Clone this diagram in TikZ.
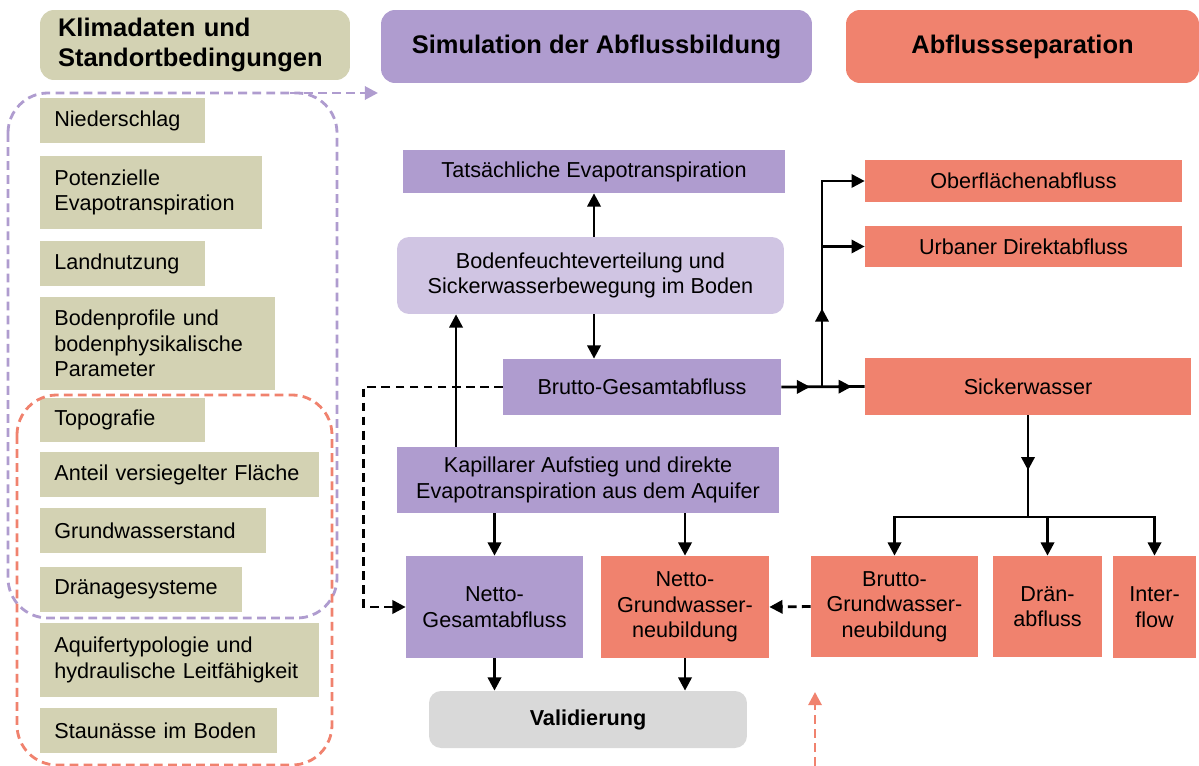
\documentclass[tikz,border=0pt]{standalone}
\usepackage{fontspec}
\setmainfont{Liberation Sans}
\usetikzlibrary{arrows.meta}
\usetikzlibrary{decorations.markings}

\definecolor{inputcol}{RGB}{211,210,179}
\definecolor{simcol}{RGB}{175,156,207}
\definecolor{simlight}{RGB}{208,197,227}
\definecolor{sepcol}{RGB}{240,130,110}
\definecolor{valcol}{RGB}{217,217,217}

\begin{document}
\begin{tikzpicture}[x = 0.02cm, y = -0.02cm,
    every node/.style = {font=\fontsize{12.3}{14.5}\selectfont},
    header/.style = {rounded corners=0.28cm, inner sep=0pt, align=center, font=\fontsize{14.5}{17.5}\selectfont\bfseries},
    inputbox/.style = {fill=inputcol, anchor=west, align=left, inner xsep=0.28cm, inner ysep=0pt},
    simbox/.style = {fill=simcol, inner sep=0pt, align=center},
    sepbox/.style = {fill=sepcol, inner sep=0pt, align=center},
    flowline/.style = {line width=1.6pt},
    flow/.style = {flowline, -{Triangle[length=7.5pt, width=7.5pt]}},
    dashflow/.style = {flow, dash pattern=on 5pt off 3pt},
    groupline/.style = {line width=1.6pt, dash pattern=on 5pt off 3pt},
    midarrow/.style = {postaction={decorate, decoration={markings, mark=at position #1 with {\arrow{Triangle[length=7.5pt, width=7.5pt]}}}}}
]

    \useasboundingbox (0,0) rectangle (1199,766);

    % Headers
    \node[header, fill=inputcol, align=left, text width=5.48cm, inner xsep=0.36cm, minimum height=1.4cm] (hklima) at (195,45) {Klimadaten und\\Standortbedingungen};
    \node[header, fill=simcol, minimum width=8.62cm, minimum height=1.46cm] (hsim) at (596.5,46.5) {Simulation der Abflussbildung};
    \node[header, fill=sepcol, minimum width=7.06cm, minimum height=1.46cm] (hsep) at (1022.5,46.5) {Abflussseparation};

    % Input data
    \foreach \yc/\tw/\mh/\txt [count=\i] in {
        120.5/2.74/0.9/Niederschlag,
        192.5/3.88/1.46/{Potenzielle\\Evapotranspiration},
        263.5/2.74/0.9/Landnutzung,
        343.5/4.14/1.86/{Bodenprofile und\\bodenphysikalische\\Parameter},
        420/2.74/0.88/Topografie,
        474.5/5.02/0.9/Anteil versiegelter Fläche,
        530.5/3.96/0.9/Grundwasserstand,
        589.5/3.48/0.9/Dränagesysteme,
        660/5.02/1.48/{Aquifertypologie und\\hydraulische Leitfähigkeit},
        730.5/4.18/0.9/Staunässe im Boden}
    \node[inputbox, text width=\tw cm, minimum height=\mh cm] (in\i) at (40,\yc) {\txt};

    % Dashed group frames
    \draw[groupline, simcol, rounded corners=0.8cm] (8,93) rectangle (337,618);
    \draw[groupline, sepcol, rounded corners=0.8cm] (17,395) rectangle (332,765);
    \coordinate (simout) at (290,93);
    \coordinate (simin) at (378,93);
    \draw[groupline, simcol, -{Triangle[length=7.5pt, width=7.5pt]}] (simout) -- (simin);
    \coordinate (sepout) at (815,766);
    \coordinate (sepin) at (815,692);
    \draw[groupline, sepcol, -{Triangle[length=7.5pt, width=7.5pt]}] (sepout) -- (sepin);

    % Simulation
    \node[simbox, minimum width=7.64cm, minimum height=0.86cm] (tats) at (594,171.5) {Tatsächliche Evapotranspiration};
    \node[simbox, fill=simlight, rounded corners=0.24cm, minimum width=7.74cm, minimum height=1.54cm] (boden) at (590.5,275.5) {Bodenfeuchteverteilung und\\Sickerwasserbewegung im Boden};
    \node[simbox, minimum width=5.56cm, minimum height=1.12cm] (brutto) at (642,387) {Brutto-Gesamtabfluss};
    \node[simbox, minimum width=7.64cm, minimum height=1.32cm] (kapillar) at (588,480) {Kapillarer Aufstieg und direkte\\Evapotranspiration aus dem Aquifer};
    \node[simbox, minimum width=3.54cm, minimum height=2.04cm] (nettoges) at (494.5,607) {Netto-\\Gesamtabfluss};
    \node[sepbox, minimum width=3.36cm, minimum height=2.04cm] (nettogw) at (685,607) {Netto-\\Grundwasser-\\neubildung};
    \node[simbox, fill=valcol, rounded corners=0.24cm, minimum width=6.36cm, minimum height=1.14cm, font=\fontsize{12.3}{14.5}\selectfont\bfseries] (valid) at (588,719.5) {Validierung};

    % Separation
    \node[sepbox, minimum width=6.34cm, minimum height=0.84cm] (ober) at (1023.5,181) {Oberflächenabfluss};
    \node[sepbox, minimum width=6.34cm, minimum height=0.82cm] (urban) at (1023.5,246.5) {Urbaner Direktabfluss};
    \node[sepbox, minimum width=6.52cm, minimum height=1.14cm] (sicker) at (1028,386.5) {Sickerwasser};
    \node[sepbox, minimum width=3.34cm, minimum height=2.02cm] (bruttogw) at (894.5,606.5) {Brutto-\\Grundwasser-\\neubildung};
    \node[sepbox, minimum width=2.18cm, minimum height=2.02cm] (draen) at (1047.5,606.5) {Drän-\\abfluss};
    \node[sepbox, minimum width=1.66cm, minimum height=2.04cm] (inter) at (1154.5,607) {Inter-\\flow};

    % Flows in the simulation
    \draw[flow] (tats.south |- boden.north) -- (tats.south);
    \draw[flow] (tats.south |- boden.south) -- (tats.south |- brutto.north);
    \draw[flow] ([xshift=-2.64cm]kapillar.north) -- ([xshift=-2.64cm]kapillar.north |- boden.south);
    \draw[flow] (nettoges.north |- kapillar.south) -- (nettoges.north);
    \draw[flow] (nettogw.north |- kapillar.south) -- (nettogw.north);
    \draw[flow] (nettoges.south) -- (nettoges.south |- valid.north);
    \draw[flow] (nettogw.south) -- (nettogw.south |- valid.north);
    \draw[dashflow] (brutto.west) -- ++(-139,0) |- (nettoges.west);
    \draw[dashflow] (bruttogw.west) -- (nettogw.east);

    % Flows in the separation
    \coordinate (j1) at (822,387);
    \coordinate (j3) at (sicker.south |- 0,517);
    \draw[flowline, midarrow=0.345, midarrow=0.845] (brutto.east) -- (sicker.west);
    \draw[flow, midarrow=0.316] (j1) |- (ober.west);
    \draw[flow] (j1 |- urban.west) -- (urban.west);
    \draw[flowline, midarrow=0.54] (sicker.south) -- (j3);
    \draw[flow] (j3) -| (bruttogw.north);
    \draw[flow] (j3) -| (draen.north);
    \draw[flow] (j3) -| (inter.north);

\end{tikzpicture}
\end{document}
